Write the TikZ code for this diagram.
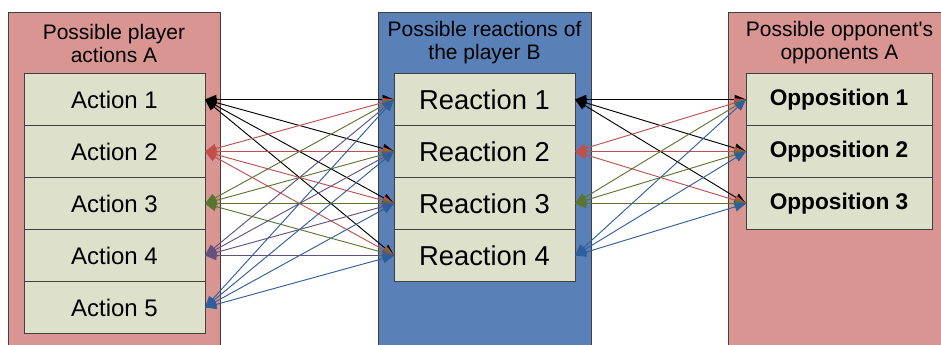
\documentclass[tikz,border=0pt]{standalone}
\usepackage{fontspec}
\setmainfont{Liberation Sans}
\usepackage{tikz}
\usetikzlibrary{arrows.meta, positioning}
\definecolor{PanelRose}{HTML}{D99592}
\definecolor{PanelBlue}{HTML}{5981B8}
\definecolor{BoxSage}{HTML}{DDE0CB}
\definecolor{EdgeGray}{HTML}{404040}
\definecolor{LinkRed}{HTML}{C0504D}
\definecolor{LinkGreen}{HTML}{5A7530}
\definecolor{LinkPurple}{HTML}{62507F}
\definecolor{LinkBlue}{HTML}{2F5E9C}
\tikzset{
  % Panel styles
  rosepanel/.style={draw=EdgeGray, fill=PanelRose, line width=0.75pt},
  bluepanel/.style={draw=EdgeGray, fill=PanelBlue, line width=0.75pt},
  paneltitle/.style={font=\fontsize{15.75}{17.25}\selectfont, align=center, inner sep=0pt},
  % Box styles
  choicebox/.style={rectangle, draw=EdgeGray, fill=BoxSage, line width=0.75pt, minimum width=135.75pt, minimum height=39pt, inner sep=0pt, outer sep=0pt, font=\fontsize{18}{20}\selectfont},
  reactbox/.style={choicebox, font=\fontsize{20.5}{22}\selectfont},
  oppbox/.style={choicebox, minimum width=139.5pt, font=\fontsize{17}{20}\selectfont\bfseries},
  % Arrow styles
  link/.style={{Triangle[length=8.5pt,width=7pt]}-{Triangle[length=8.5pt,width=7pt]}, line width=0.7pt}
}

\begin{document}
\begin{tikzpicture}[x=0.75pt, y=-0.75pt]
  \useasboundingbox (0,0) rectangle (941,344);
  \clip (0,0) rectangle (941,344);

  % Panels
  \draw[rosepanel] (8,12) rectangle (220,360);
  \draw[bluepanel] (378,12) rectangle (591,360);
  \draw[rosepanel] (728,12) rectangle (960,360);

  % Titles
  \node[paneltitle] (titleA) at (114,43) {Possible player\\actions A};
  \node[paneltitle] (titleB) at (484.5,43) {Possible reactions of\\the player B};
  \node[paneltitle] (titleC) at (839.5,43) {Possible opponent\textquotesingle s\\opponents A};

  % Actions
  \node[choicebox] (act1) at (114.5,99.5) {Action 1};
  \node[choicebox, below=0pt of act1] (act2) {Action 2};
  \node[choicebox, below=0pt of act2] (act3) {Action 3};
  \node[choicebox, below=0pt of act3] (act4) {Action 4};
  \node[choicebox, below=0pt of act4] (act5) {Action 5};

  % Reactions
  \node[reactbox] (react1) at (484.5,99.5) {Reaction 1};
  \node[reactbox, below=0pt of react1] (react2) {Reaction 2};
  \node[reactbox, below=0pt of react2] (react3) {Reaction 3};
  \node[reactbox, below=0pt of react3] (react4) {Reaction 4};

  % Oppositions
  \node[oppbox] (opp1) at (839,99.5) {Opposition 1};
  \node[oppbox, below=0pt of opp1] (opp2) {Opposition 2};
  \node[oppbox, below=0pt of opp2] (opp3) {Opposition 3};

  % Links
  \foreach \i/\c in {1/black,2/LinkRed,3/LinkGreen,4/LinkPurple,5/LinkBlue}
    \foreach \j in {1,...,4}
      \draw[link, \c] (act\i.east) -- (react\j.west);
  \foreach \j/\c in {1/black,2/LinkRed,3/LinkGreen,4/LinkBlue}
    \foreach \k in {1,2,3}
      \draw[link, \c] (react\j.east) -- (opp\k.west);
\end{tikzpicture}
\end{document}
